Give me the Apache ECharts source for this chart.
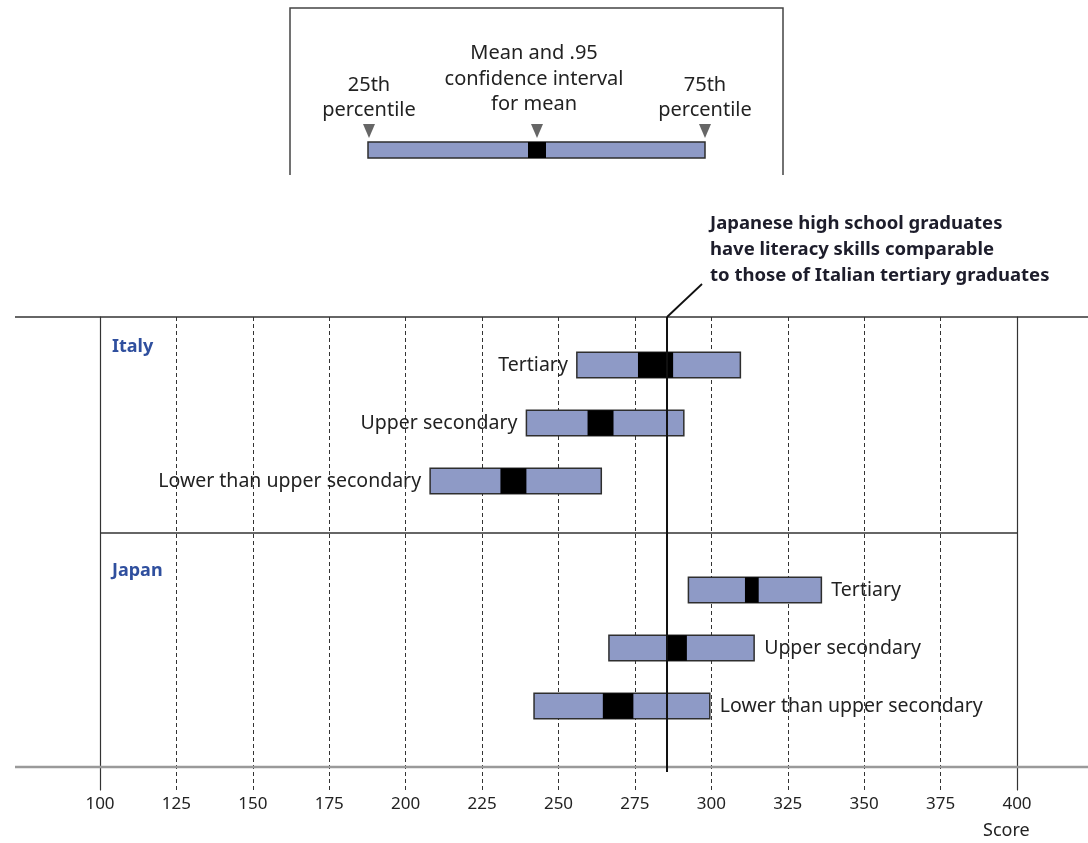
<!DOCTYPE html>
<html>
<head>
<meta charset="utf-8">
<script src="https://cdn.jsdelivr.net/npm/echarts@6/dist/echarts.min.js"></script>
<style>
  html, body { margin: 0; padding: 0; background: #fff; }
  #chart { width: 1088px; height: 843px; }
</style>
</head>
<body>
<div id="chart"></div>
<script>
// Education levels, listed bottom-up so Tertiary sits on top of each panel
const categories = ['Lower than upper secondary', 'Upper secondary', 'Tertiary'];

// Italy: 25th / 75th percentile and .95 confidence interval of the mean
const italyP25 = [208, 239.5, 256];
const italyP75 = [264, 291, 309.5];
const italyCiLow = [231, 259.5, 276];
const italyCiHigh = [239.5, 268, 287.5];

// Japan
const japanP25 = [242, 266.5, 292.5];
const japanP75 = [299.5, 314, 336];
const japanCiLow = [264.5, 285.5, 311];
const japanCiHigh = [274.5, 292, 315.5];

// Score axis
const scoreMin = 100;
const scoreMax = 400;
const scoreStep = 25;

// Reference score marked by the vertical rule
const comparisonScore = 285.5;

const FONT = '"Noto Sans", "DejaVu Sans", sans-serif';
const BOX_FILL = '#8e9ac6';
const EDGE = '#2e2e2e';
const TEXT = '#222222';
const GROUP_BLUE = '#2f4f9e';

function rows(p25, p75, lo, hi) {
  return categories.map((c, i) => [i, p25[i], p75[i], lo[i], hi[i]]);
}

function makeBoxRenderer(labelSide) {
  return function (params, api) {
    const yi = api.value(0);
    const a = api.coord([api.value(1), yi]);
    const b = api.coord([api.value(2), yi]);
    const c = api.coord([api.value(3), yi]);
    const d = api.coord([api.value(4), yi]);
    const h = api.size([0, 1])[1] * 0.44;
    const y = a[1] - h / 2;
    const font = '19.5px ' + FONT;
    const label = labelSide === 'left'
      ? { type: 'text', style: { text: categories[yi], x: a[0] - 9, y: a[1], align: 'right', verticalAlign: 'middle', fill: TEXT, font: font } }
      : { type: 'text', style: { text: categories[yi], x: b[0] + 10, y: a[1], align: 'left', verticalAlign: 'middle', fill: TEXT, font: font } };
    return {
      type: 'group',
      children: [
        { type: 'rect', shape: { x: a[0], y: y, width: b[0] - a[0], height: h },
          style: { fill: BOX_FILL, stroke: EDGE, lineWidth: 1.5 } },
        { type: 'rect', shape: { x: c[0], y: y, width: d[0] - c[0], height: h },
          style: { fill: '#000000' } },
        label
      ]
    };
  };
}

function renderComparison(params, api) {
  const x = api.coord([api.value(0), 0])[0];
  const cs = params.coordSys;
  const top = cs.y;
  const bottom = cs.y + cs.height - 18;
  return {
    type: 'group',
    children: [
      { type: 'line', shape: { x1: x, y1: top, x2: x, y2: bottom },
        style: { stroke: '#111111', lineWidth: 2 } },
      { type: 'line', shape: { x1: x, y1: top, x2: x + 35, y2: top - 33 },
        style: { stroke: '#111111', lineWidth: 1.8 } },
      { type: 'text', style: {
          text: 'Japanese high school graduates\nhave literacy skills comparable\nto those of Italian tertiary graduates',
          x: x + 43, y: top - 106, align: 'left', verticalAlign: 'top',
          lineHeight: 26, fill: '#1d1d2b', font: 'bold 18.5px ' + FONT } }
    ]
  };
}

const hiddenValueX = (gi) => ({
  gridIndex: gi, type: 'value', min: scoreMin, max: scoreMax, interval: scoreStep, show: false
});
const hiddenCatY = (gi) => ({
  gridIndex: gi, type: 'category', data: categories, show: false
});

const option = {
  backgroundColor: '#ffffff',
  animation: false,
  grid: [
    { left: 100, right: 71, top: 317, bottom: 53 },   // frame with score axis
    { left: 100, right: 71, top: 336, height: 174 },  // Italy
    { left: 100, right: 71, top: 561, height: 174 }   // Japan
  ],
  xAxis: [
    {
      gridIndex: 0, type: 'value', min: scoreMin, max: scoreMax, interval: scoreStep,
      axisLine: { show: false },
      axisTick: { show: false },
      axisLabel: { color: TEXT, fontSize: 17, fontFamily: FONT, margin: 6 },
      splitLine: { show: true, lineStyle: { color: '#333333', width: 1, type: [4, 3] } }
    },
    hiddenValueX(1),
    hiddenValueX(2)
  ],
  yAxis: [
    { gridIndex: 0, type: 'value', min: 0, max: 1, position: 'left',
      axisLine: { show: true, lineStyle: { color: '#333333', width: 1.2 } },
      axisTick: { show: false }, axisLabel: { show: false }, splitLine: { show: false } },
    { gridIndex: 0, type: 'value', min: 0, max: 1, position: 'right',
      axisLine: { show: true, lineStyle: { color: '#333333', width: 1.2 } },
      axisTick: { show: false }, axisLabel: { show: false }, splitLine: { show: false } },
    hiddenCatY(1),
    hiddenCatY(2)
  ],
  graphic: [
    // horizontal rules of the panel frame
    { type: 'line', shape: { x1: 15, y1: 317, x2: 1088, y2: 317 }, style: { stroke: '#333333', lineWidth: 1.5 }, z: 5 },
    { type: 'line', shape: { x1: 100, y1: 533, x2: 1017, y2: 533 }, style: { stroke: '#333333', lineWidth: 1.5 }, z: 5 },
    { type: 'line', shape: { x1: 15, y1: 767, x2: 1088, y2: 767 }, style: { stroke: '#9a9a9a', lineWidth: 2.5 }, z: 5 },
    // group titles
    { type: 'text', left: 112, top: 338, style: { text: 'Italy', fill: GROUP_BLUE, font: 'bold 18px ' + FONT } },
    { type: 'text', left: 112, top: 562, style: { text: 'Japan', fill: GROUP_BLUE, font: 'bold 18px ' + FONT } },
    // axis title
    { type: 'text', left: 983, top: 822, style: { text: 'Score', fill: TEXT, font: '18px ' + FONT } },
    // key box
    { type: 'polyline', shape: { points: [[290, 175], [290, 8], [783, 8], [783, 175]] },
      style: { stroke: '#444444', lineWidth: 1.5, fill: null } },
    { type: 'rect', shape: { x: 368, y: 142, width: 337, height: 16 },
      style: { fill: BOX_FILL, stroke: EDGE, lineWidth: 1.5 } },
    { type: 'rect', shape: { x: 528, y: 142, width: 18, height: 16 }, style: { fill: '#000000' } },
    { type: 'polygon', shape: { points: [[363, 124], [375, 124], [369, 138]] }, style: { fill: '#666666' } },
    { type: 'polygon', shape: { points: [[531, 124], [543, 124], [537, 138]] }, style: { fill: '#666666' } },
    { type: 'polygon', shape: { points: [[699, 124], [711, 124], [705, 138]] }, style: { fill: '#666666' } },
    { type: 'text', x: 369, y: 73, style: { text: '25th\npercentile', align: 'center', verticalAlign: 'top', lineHeight: 25, fill: TEXT, font: '20px ' + FONT } },
    { type: 'text', x: 534, y: 41, style: { text: 'Mean and .95\nconfidence interval\nfor mean', align: 'center', verticalAlign: 'top', lineHeight: 25.5, fill: TEXT, font: '20px ' + FONT } },
    { type: 'text', x: 705, y: 73, style: { text: '75th\npercentile', align: 'center', verticalAlign: 'top', lineHeight: 25, fill: TEXT, font: '20px ' + FONT } }
  ],
  series: [
    {
      type: 'custom', name: 'Italy', xAxisIndex: 1, yAxisIndex: 2, clip: false,
      renderItem: makeBoxRenderer('left'),
      encode: { x: [1, 2, 3, 4], y: 0 },
      data: rows(italyP25, italyP75, italyCiLow, italyCiHigh), z: 3
    },
    {
      type: 'custom', name: 'Japan', xAxisIndex: 2, yAxisIndex: 3, clip: false,
      renderItem: makeBoxRenderer('right'),
      encode: { x: [1, 2, 3, 4], y: 0 },
      data: rows(japanP25, japanP75, japanCiLow, japanCiHigh), z: 3
    },
    {
      type: 'custom', name: 'Comparison', xAxisIndex: 0, yAxisIndex: 0, clip: false,
      renderItem: renderComparison,
      encode: { x: 0 },
      data: [[comparisonScore]], z: 6
    }
  ]
};

const chart = echarts.init(document.getElementById('chart'), null, { renderer: 'canvas' });
chart.setOption(option);
</script>
</body>
</html>
